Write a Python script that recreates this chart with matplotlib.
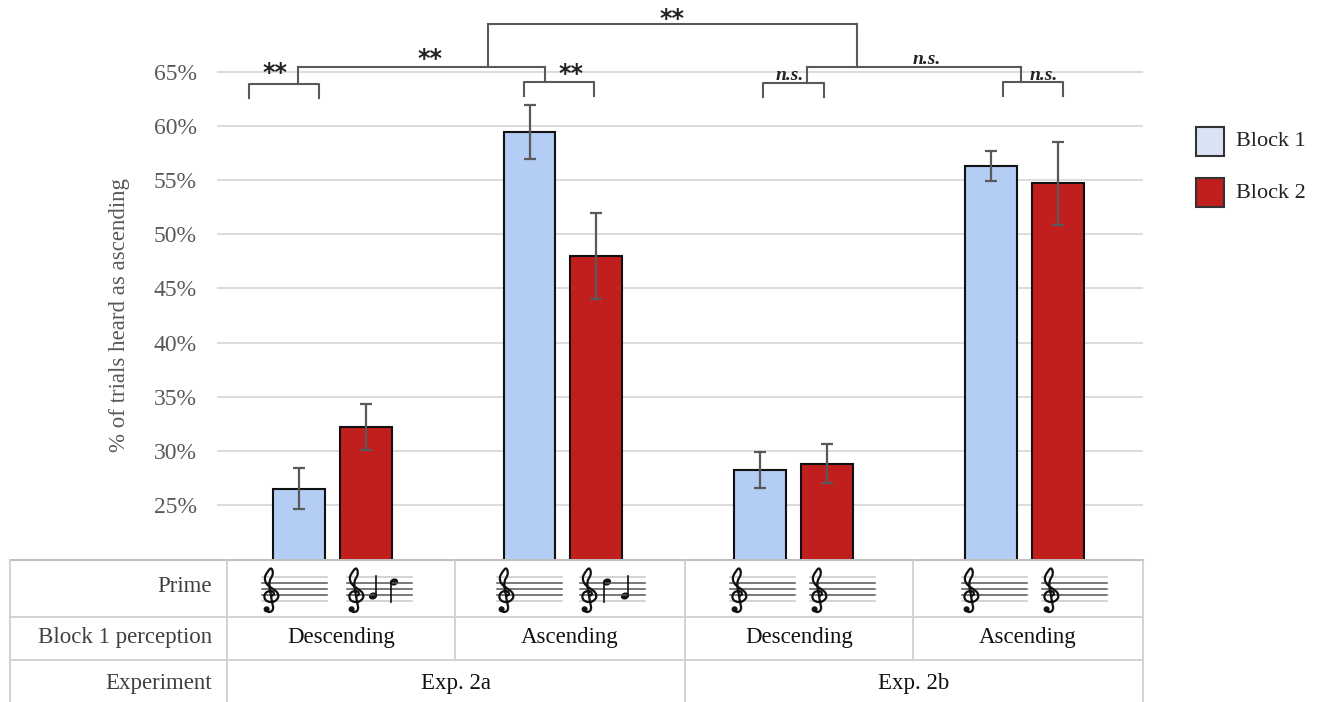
import numpy as np
import matplotlib
matplotlib.use('Agg')
import matplotlib.pyplot as plt
from matplotlib.patches import Rectangle, Ellipse, Circle

plt.rcParams['font.family'] = ['Liberation Serif', 'DejaVu Sans']

# data
groups = ['Descending', 'Ascending', 'Descending', 'Ascending']
experiments = ['Exp. 2a', 'Exp. 2b']
block1 = [26.5, 59.4, 28.2, 56.3]
block2 = [32.2, 48.0, 28.8, 54.7]
block1_err = [1.9, 2.5, 1.65, 1.4]
block2_err = [2.1, 4.0, 1.8, 3.85]
yticks = [25, 30, 35, 40, 45, 50, 55, 60, 65]

# significance brackets (data units): left leg, right leg, top, leg bottom, stub
pair_brackets = [(-0.360, -0.056, 63.87, 62.57, -0.147),
                 (0.832, 1.136, 64.05, 62.76, 0.923),
                 (1.868, 2.133, 63.96, 62.66, 2.059),
                 (2.909, 3.169, 64.05, 62.76, 2.987)]
level2_y = 65.42
level3_y = 69.40
level2_pairs = [(0, 1, 0.676), (2, 3, 2.276)]
star_labels = [(-0.247, 64.85), (1.036, 64.8), (0.425, 66.2), (1.474, 69.9)]
ns_labels = [(1.985, 64.25), (3.083, 64.25), (2.579, 65.7)]

BLUE = '#b4cdf5'
RED = '#c01f1d'
GRID = '#d9d9d9'
GRAY = '#595959'

fig = plt.figure(figsize=(13.2, 7.02), dpi=100)

# overlay in pixel coords for table / legend / labels
ov = fig.add_axes([0, 0, 1, 1], zorder=0)
ov.set_xlim(0, 1320)
ov.set_ylim(702, 0)
ov.axis('off')

ax = fig.add_axes([217 / 1320, (702 - 559.16) / 702, 926 / 1320, 552.4 / 702], zorder=1)
ax.set_facecolor('none')
ax.set_xlim(-0.5, 3.515)
ax.set_ylim(20, 71)

off = 0.145
w = 0.225
xs = list(range(len(groups)))
ax.bar([x - off for x in xs], block1, width=w, color=BLUE, edgecolor='#111111', linewidth=1.5, zorder=3)
ax.bar([x + off for x in xs], block2, width=w, color=RED, edgecolor='#111111', linewidth=1.5, zorder=3)
ax.errorbar([x - off for x in xs], block1, yerr=block1_err, fmt='none', ecolor=GRAY, elinewidth=1.6, capsize=4, capthick=1.6, zorder=4)
ax.errorbar([x + off for x in xs], block2, yerr=block2_err, fmt='none', ecolor=GRAY, elinewidth=1.6, capsize=4, capthick=1.6, zorder=4)

ax.set_yticks(yticks)
ax.set_yticklabels([f'{t}%' for t in yticks], fontsize=17, color=GRAY)
ax.set_xticks([])
ax.tick_params(axis='y', length=0, pad=14.5)
for t in yticks:
    ax.axhline(t, color=GRID, linewidth=1.3, zorder=1)
for s in ax.spines.values():
    s.set_visible(False)

# brackets
bk = dict(color=GRAY, linewidth=1.5, clip_on=False, zorder=5)
for x1, x2, top, bot, stub in pair_brackets:
    ax.plot([x1, x1, x2, x2], [bot, top, top, bot], **bk)
    ax.plot([stub, stub], [top, level2_y], **bk)
for a, b, stub in level2_pairs:
    ax.plot([pair_brackets[a][4], pair_brackets[b][4]], [level2_y, level2_y], **bk)
    ax.plot([stub, stub], [level2_y, level3_y], **bk)
ax.plot([level2_pairs[0][2], level2_pairs[1][2]], [level3_y, level3_y], **bk)
for x, y in star_labels:
    ax.text(x, y, '**', ha='center', va='center', fontsize=17, fontweight='bold',
            family='DejaVu Sans', color='#222222', clip_on=False)
for x, y in ns_labels:
    ax.text(x, y, 'n.s.', ha='center', va='baseline', fontsize=14, style='italic',
            fontweight='bold', color='#222222', clip_on=False)

ov.text(120, 315, '% of trials heard as ascending', rotation=90, ha='center', va='center',
        fontsize=16.5, color=GRAY)

# table
tl = dict(color='#cfcfcf', linewidth=1.3)
ov.plot([10, 1143], [560, 560], color='#bfbfbf', linewidth=1.5)
ov.plot([10, 1143], [617, 617], **tl)
ov.plot([10, 1143], [660, 660], **tl)
for x in [10, 227, 685, 1143]:
    ov.plot([x, x], [560, 702], **tl)
for x in [455, 913]:
    ov.plot([x, x], [560, 660], **tl)
row_lab = dict(ha='right', va='center', fontsize=16.5, color='#404040')
ov.text(212, 586, 'Prime', **row_lab)
ov.text(212, 638, 'Block 1 perception', **row_lab)
ov.text(212, 683, 'Experiment', **row_lab)
col_edges = [227, 455, 685, 913, 1143]
for i, g in enumerate(groups):
    ov.text((col_edges[i] + col_edges[i + 1]) / 2, 638, g, ha='center', va='center',
            fontsize=16.5, color='#111111')
for i, e in enumerate(experiments):
    ov.text((col_edges[2 * i] + col_edges[2 * i + 2]) / 2, 683, e, ha='center', va='center',
            fontsize=16.5, color='#111111')

# treble clef outline (no installed font has the glyph), smoothed with catmull-rom
clef_pts = np.array([(1, 6), (3, 4.5), (2.5, 2), (0, 1), (-3, 2.5), (-4.5, 6), (-3.5, 10),
                     (0, 12), (4, 11), (6.5, 7.5), (6, 3), (3, -0.5), (-1, -4), (-3.5, -8),
                     (-4, -13), (-2, -18), (0.5, -21.5), (2, -19.5), (2, -15), (0, -10),
                     (-0.5, -5), (0, 0), (1, 8), (2, 14), (2.5, 18), (1.5, 21), (-1, 22),
                     (-3, 20.5)], dtype=float)


def smooth(p, n=8):
    p = np.vstack([p[0], p, p[-1]])
    out = []
    t = np.linspace(0, 1, n, endpoint=False)[:, None]
    for i in range(1, len(p) - 2):
        p0, p1, p2, p3 = p[i - 1], p[i], p[i + 1], p[i + 2]
        out.append(0.5 * ((2 * p1) + (-p0 + p2) * t + (2 * p0 - 5 * p1 + 4 * p2 - p3) * t ** 2
                          + (-p0 + 3 * p1 - 3 * p2 + p3) * t ** 3))
    out.append(p[-2][None, :])
    return np.vstack(out)


clef_line = smooth(clef_pts)


def clef(cx, cy):
    ov.plot(cx + clef_line[:, 0] * 1.25, cy + clef_line[:, 1], color='#111111',
            linewidth=1.6, solid_capstyle='round', zorder=3)
    ov.add_patch(Circle((cx - 3.4, cy + 19.3), 2.3, color='#111111', zorder=3))


# staves in the Prime row
staff_left = [262, 347, 497, 580, 730, 810, 962, 1042]
staff_y = [577, 583, 589, 595, 601]
for x0 in staff_left:
    for k, yy in enumerate(staff_y):
        c = '#c8c8c8' if k in (0, 4) else '#555555'
        ov.plot([x0, x0 + 65], [yy, yy], color=c, linewidth=1.1)
    clef(x0 + 8, 590)


def note(x, y, up):
    ov.add_patch(Ellipse((x, y), 7, 5.5, angle=-20, color='#111111'))
    if up:
        ov.plot([x + 3.2, x + 3.2], [y, y - 20], color='#111111', linewidth=1.2)
    else:
        ov.plot([x - 3.2, x - 3.2], [y, y + 20], color='#111111', linewidth=1.2)


note(373, 596, True)
note(394, 582, False)
note(607, 582, False)
note(625, 596, True)

# legend
ov.add_patch(Rectangle((1196, 127), 28, 29, facecolor='#dae3f3', edgecolor='#333333', linewidth=1.5))
ov.add_patch(Rectangle((1196, 178), 28, 29, facecolor=RED, edgecolor='#333333', linewidth=1.5))
ov.text(1236, 142, 'Block 1', ha='left', va='center', fontsize=16, color='#222222')
ov.text(1236, 193, 'Block 2', ha='left', va='center', fontsize=16, color='#222222')

fig.savefig('out.png', dpi=100)
